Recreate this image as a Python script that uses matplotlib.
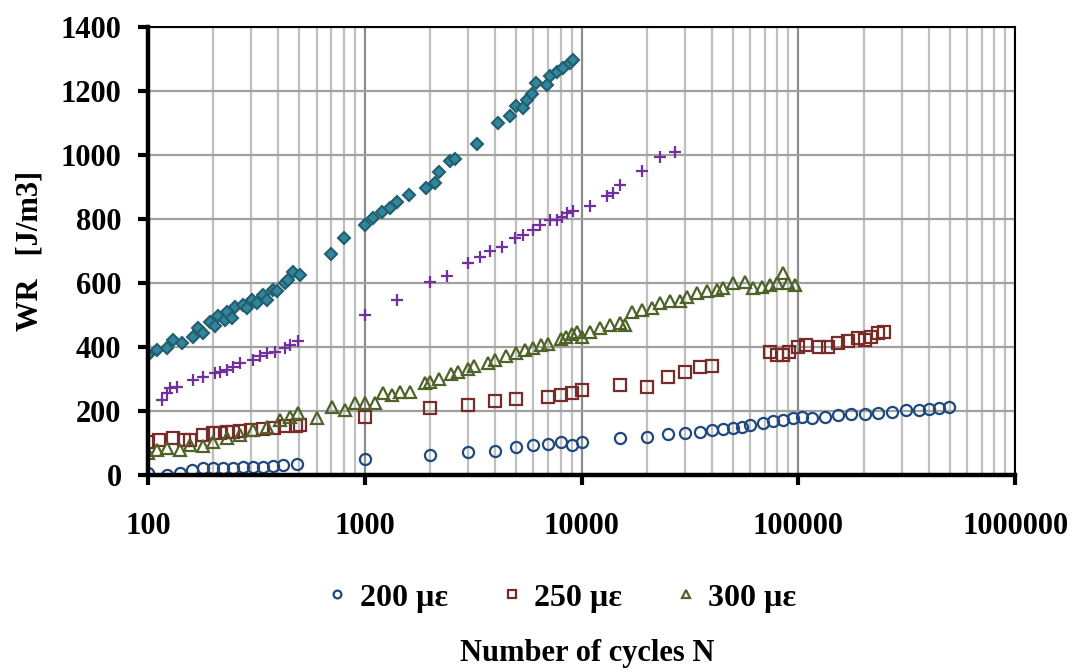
import numpy as np
import matplotlib.pyplot as plt
from matplotlib.ticker import FixedLocator, FuncFormatter, LogLocator, NullFormatter

# 200 microstrain (circles)
n_200 = [100, 122, 140, 159, 180, 200, 222, 248, 275, 306, 340, 379, 421, 485,
         1000, 2000, 3000, 4000, 5000, 6000, 7000, 8000, 9000, 10000,
         15000, 20000, 25000, 30000, 35000, 40000, 45000, 50000, 55000, 60000,
         69000, 76500, 85000, 94000, 104000, 115000, 132000, 152000, 175000,
         202000, 234000, 270000, 315000, 360000, 400000, 445000, 495000]
wr_200 = [5, 0, 5, 16, 21, 21, 21, 21, 26, 26, 26, 28, 31, 34,
          49, 62, 72, 75, 88, 92, 96, 102, 95, 104,
          115, 120, 128, 132, 135, 141, 143, 146, 151, 156,
          161, 167, 172, 177, 180, 177, 182, 187, 190,
          190, 195, 198, 203, 203, 205, 208, 213]

# 250 microstrain (squares)
n_250 = [100, 112, 131, 146, 156, 180, 200, 215, 231, 248, 266, 300, 340, 380, 430, 480, 503,
         1000, 2000, 3000, 4000, 5000, 7000, 8000, 9000, 10000,
         15000, 20000, 25000, 30000, 35000, 40000,
         74000, 79500, 85000, 91000, 100000, 109000, 125000, 137000, 152000,
         169000, 188000, 202000, 217000, 234000, 248000]
wr_250 = [104, 109, 115, 109, 109, 125, 130, 130, 135, 135, 138, 141, 145, 148, 152, 154, 156,
          182, 209, 219, 231, 237, 245, 250, 255, 266,
          281, 276, 307, 320, 336, 340,
          385, 375, 375, 385, 401, 406, 401, 401, 411,
          417, 427, 422, 432, 443, 448]

# 300 microstrain (triangles)
n_300 = [100, 110, 122, 140, 156, 180, 200, 231, 266, 306, 353, 406, 452, 494,
         600, 703, 810, 900, 1000, 1110, 1213, 1330, 1450, 1620, 1900,
         2000, 2200, 2500, 2700, 3000, 3200, 3700, 4000, 4500, 5000, 5500, 6000,
         6500, 7000, 8000, 8500, 9000, 9500,
         10030, 10940, 12170, 13530, 15060, 15880, 17050, 18960, 21090, 23030,
         25600, 28500, 30600, 34000, 37800, 42000, 45100, 50100, 56700, 62000,
         67800, 74100, 79500, 85300, 90000, 96600]
wr_300 = [68, 78, 83, 78, 94, 89, 104, 115, 125, 141, 151, 172, 182, 193,
          177, 213, 203, 224, 224, 224, 255, 250, 260, 260, 286,
          290, 300, 315, 320, 330, 340, 350, 360, 370, 380, 390, 395,
          405, 410, 425, 430, 440, 445,
          432, 448, 458, 469, 474, 469, 510, 516, 521, 536,
          542, 542, 557, 568, 573, 578, 583, 599, 604, 583,
          588, 594, 599, 630, 599, 594]

# unlabelled series (plus)
n_plus = [116, 122, 126, 136, 162, 180, 204, 215, 231, 248, 266, 306, 329, 353, 385, 429, 452, 494,
          1000, 1403, 2000, 2390, 2990, 3400, 3790, 4285, 4930, 5385, 5990, 6430,
          7160, 7690, 8110, 8550, 9170, 10940, 13060, 14020, 15060, 18960, 23000, 27000]
wr_plus = [234, 255, 271, 276, 297, 307, 318, 323, 328, 338, 349, 359, 370, 380, 385, 396, 406, 417,
           500, 547, 603, 622, 662, 681, 700, 713, 740, 750, 766, 781,
           797, 797, 807, 818, 823, 839, 870, 880, 906, 948, 994, 1009]

# unlabelled series (diamond)
n_dia = [100, 110, 122, 130, 143, 162, 171, 180, 193, 204, 211, 226, 231, 243, 252,
         275, 285, 301, 317, 340, 353, 379, 392, 429, 444, 468, 503,
         700, 800, 1000, 1094, 1197, 1309, 1403, 1606, 1918, 2110, 2201, 2473, 2607,
         3306, 4104, 4680, 4970, 5385, 5580, 5890, 6166, 6905, 7160, 7690, 8250, 8850, 9170]
wr_dia = [375, 391, 396, 422, 412, 432, 458, 443, 479, 464, 495, 484, 510, 490, 526,
          531, 521, 547, 536, 562, 547, 578, 573, 599, 609, 635, 625,
          690, 740, 781, 802, 821, 833, 854, 875, 896, 913, 946, 981, 986,
          1033, 1099, 1120, 1153, 1146, 1172, 1190, 1224, 1219, 1247, 1260, 1271, 1287, 1297]

x_ticks = [100, 1000, 10000, 100000, 1000000]
y_ticks = [0, 200, 400, 600, 800, 1000, 1200, 1400]

plt.rcParams['font.family'] = ['Liberation Serif', 'DejaVu Serif']
plt.rcParams['font.weight'] = 'bold'

fig = plt.figure(figsize=(10.72, 6.68), dpi=100)
ax = fig.add_axes([0.138, 0.289, 0.809, 0.671])

ax.plot(n_dia, wr_dia, 'D', ms=6.5, mfc='#31859C', mec='#215E6E', mew=1.5, ls='none', label='_nolegend_')
ax.plot(n_plus, wr_plus, '+', ms=8, mec='#7030A0', mew=1.6, ls='none', label='_nolegend_')
ax.plot(n_200, wr_200, 'o', ms=8, mfc='none', mec='#1F497D', mew=1.6, ls='none', label='200 µε')
ax.plot(n_250, wr_250, 's', ms=8, mfc='none', mec='#772C2A', mew=1.6, ls='none', label='250 µε')
ax.plot(n_300, wr_300, '^', ms=9, mfc='none', mec='#4F6228', mew=1.6, ls='none', label='300 µε')

ax.set_xscale('log')
ax.set_xlim(100, 1000000)
ax.set_ylim(0, 1400)
ax.xaxis.set_major_locator(FixedLocator(x_ticks))
ax.xaxis.set_major_formatter(FuncFormatter(lambda v, p: f'{int(round(v))}'))
ax.xaxis.set_minor_locator(LogLocator(base=10, subs=np.arange(2, 10)))
ax.xaxis.set_minor_formatter(NullFormatter())
ax.yaxis.set_major_locator(FixedLocator(y_ticks))

ax.grid(True, which='major', axis='x', color='#8C8C8C', lw=1.6)
ax.grid(True, which='minor', axis='x', color='#BFBFBF', lw=1.6)
ax.grid(True, which='major', axis='y', color='#A0A0A0', lw=1.6)
ax.set_axisbelow(True)

for s in ['left', 'bottom']:
    ax.spines[s].set_linewidth(3.2)
for s in ['top', 'right']:
    ax.spines[s].set_linewidth(1.5)

ax.tick_params(axis='both', which='major', direction='out', width=3, length=7, labelsize=22)
ax.tick_params(axis='x', which='major', pad=20)
ax.tick_params(axis='y', which='major', pad=12)
ax.tick_params(axis='x', which='minor', length=0)

for lbl in ax.get_xticklabels() + ax.get_yticklabels():
    lbl.set_fontweight('bold')

ax.set_ylabel('WR   [J/m3]', fontsize=22, fontweight='bold', labelpad=12)
fig.text(0.548, 0.011, 'Number of cycles N', ha='center', va='baseline', fontsize=22, fontweight='bold')

leg = fig.legend(loc='center', bbox_to_anchor=(0.52, 0.105), ncol=3, frameon=False,
                 markerscale=0.7, handletextpad=0.1, columnspacing=1.4, handlelength=1.2,
                 prop={'size': 23, 'weight': 'bold'})

fig.savefig('out.png', dpi=100)
